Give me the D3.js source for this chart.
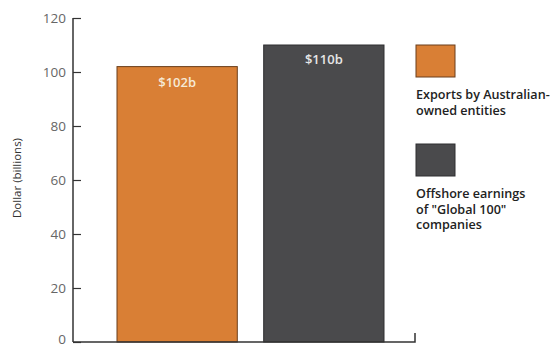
<!DOCTYPE html>
<html>
<head>
<meta charset="utf-8">
<script src="https://cdn.jsdelivr.net/npm/d3@7"></script>
<style>
  html, body { margin: 0; padding: 0; background: #fff; }
  svg { display: block; }
  text { font-family: "Open Sans", "Liberation Sans", sans-serif; }
</style>
</head>
<body>
<svg id="chart" width="556" height="347"></svg>
<script>
// Chart data
const categories = ["Exports by Australian-owned entities", "Offshore earnings of \"Global 100\" companies"];
const values = [102, 110];
const valueLabels = ["$102b", "$110b"];
const colors = ["#d97f35", "#4a4a4c"];
const strokes = ["#6b3f1c", "#2e2e30"];
const labelColors = ["#f6ead6", "#e6e6e6"];
const yTicks = [0, 20, 40, 60, 80, 100, 120];
const legendLines = [
  ["Exports by Australian-", "owned entities"],
  ["Offshore earnings", "of \"Global 100\"", "companies"]
];
const yTitle = "Dollar (billions)";

const svg = d3.select("#chart");

const y = d3.scaleLinear().domain([0, 120]).range([342, 18]);
const x = d3.scaleBand().domain(categories).range([117, 384]).paddingInner(0.18).paddingOuter(0);

const axisX0 = 73, axisX1 = 415;

// Bars
svg.selectAll("rect.bar")
  .data(categories)
  .join("rect")
  .attr("class", "bar")
  .attr("x", d => x(d))
  .attr("width", x.bandwidth())
  .attr("y", (d, i) => y(values[i]))
  .attr("height", (d, i) => y(0) - y(values[i]))
  .attr("fill", (d, i) => colors[i])
  .attr("stroke", (d, i) => strokes[i])
  .attr("stroke-width", 1);

// Value labels inside bar tops
svg.selectAll("text.val")
  .data(categories)
  .join("text")
  .attr("class", "val")
  .attr("x", d => x(d) + x.bandwidth() / 2)
  .attr("y", (d, i) => y(values[i]) + (i === 0 ? 20.5 : 18.5))
  .attr("text-anchor", "middle")
  .attr("font-size", 13)
  .attr("font-weight", 600)
  .attr("fill", (d, i) => labelColors[i])
  .text((d, i) => valueLabels[i]);

// Y axis with inward ticks
const yAxis = d3.axisRight(y).tickValues(yTicks).tickSize(8).tickFormat("");
const gy = svg.append("g").attr("transform", `translate(${axisX0},0)`).call(yAxis);
gy.select(".domain").remove();
gy.selectAll(".tick line").attr("stroke", "#333").attr("stroke-width", 1.2);
svg.append("line")
  .attr("x1", axisX0).attr("x2", axisX0)
  .attr("y1", y(120)).attr("y2", y(0))
  .attr("stroke", "#333").attr("stroke-width", 1.5);

// Tick labels (the zero label is nudged up to stay inside the frame)
svg.selectAll("text.ytick")
  .data(yTicks)
  .join("text")
  .attr("class", "ytick")
  .attr("x", 66)
  .attr("y", d => y(d) - (d === 0 ? 2.5 : 0))
  .attr("dy", "0.35em")
  .attr("text-anchor", "end")
  .attr("font-size", 13.5)
  .attr("fill", "#666")
  .text(d => d);

// X axis baseline with closing tick at the right
svg.append("path")
  .attr("d", `M${axisX0},${y(0)}H${axisX1}V${y(0) - 9}`)
  .attr("fill", "none")
  .attr("stroke", "#333")
  .attr("stroke-width", 1.5);

// Y axis title
svg.append("text")
  .attr("transform", `translate(21,178) rotate(-90)`)
  .attr("text-anchor", "middle")
  .attr("font-size", 11.5)
  .attr("fill", "#333")
  .text(yTitle);

// Legend
const legendTop = [45, 144];
const lg = svg.selectAll("g.legend")
  .data(categories)
  .join("g")
  .attr("class", "legend")
  .attr("transform", (d, i) => `translate(416,${legendTop[i]})`);
lg.append("rect")
  .attr("width", 39).attr("height", 32)
  .attr("fill", (d, i) => colors[i])
  .attr("stroke", (d, i) => strokes[i]);
lg.each(function (d, i) {
  d3.select(this).selectAll("text")
    .data(legendLines[i])
    .join("text")
    .attr("x", 0)
    .attr("y", (t, j) => 54 + j * 15.5)
    .attr("font-size", 12.6)
    .attr("font-weight", 600)
    .attr("fill", "#222")
    .text(t => t);
});
</script>
</body>
</html>
